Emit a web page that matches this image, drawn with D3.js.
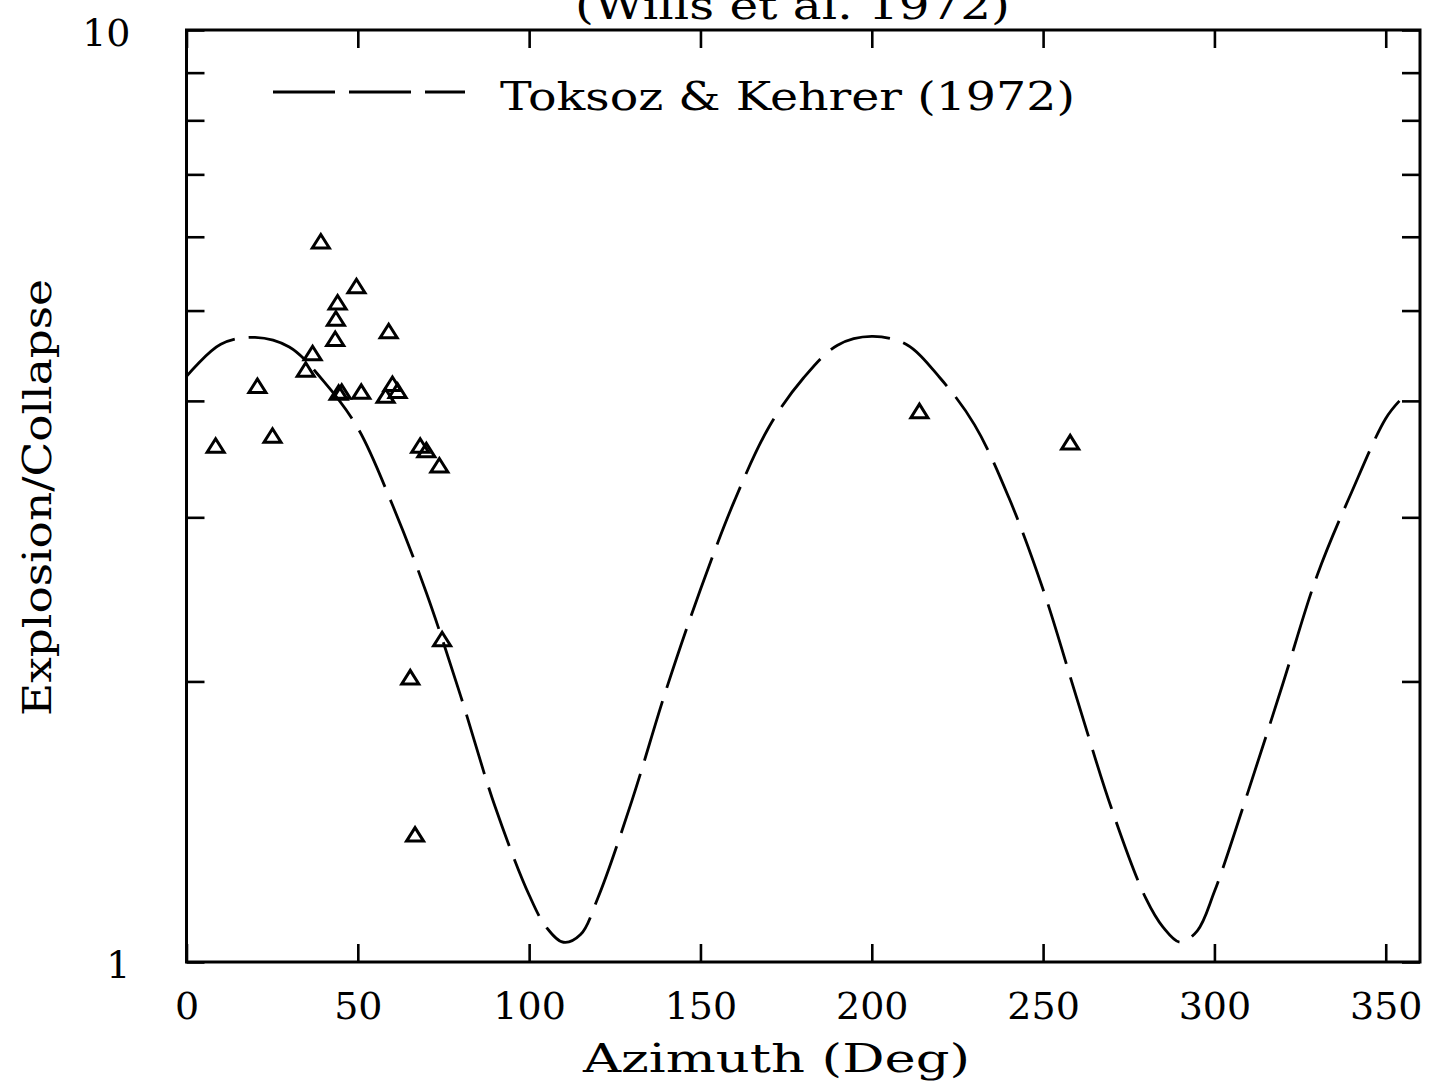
<!DOCTYPE html>
<html>
<head>
<meta charset="utf-8">
<script src="https://cdn.jsdelivr.net/npm/d3@7"></script>
<style>
  body { margin: 0; background: #fff; }
  text { font-family: "DejaVu Serif", serif; fill: #000; }
</style>
</head>
<body>
<div id="chart"></div>
<script>
// observed ratios (triangles)
let obsAzimuth = [8.5, 20.7, 25.1, 34.8, 36.8, 39.2, 43.4, 43.6, 44.1, 44.4, 45.3, 49.6, 51.0,
                  58.1, 59.0, 60.1, 61.6, 68.2, 70.0, 73.8, 74.6, 65.3, 66.7, 213.9, 257.9];
let obsRatio = [3.58, 4.15, 3.67, 4.32, 4.50, 5.93, 4.66, 4.90, 5.10, 4.08, 4.09, 5.31, 4.09,
                4.05, 4.75, 4.17, 4.10, 3.58, 3.54, 3.41, 2.22, 2.02, 1.37, 3.90, 3.61];

// Toksoz & Kehrer (1972) curve
let curveAzimuth = [0, 10, 20, 30, 40, 50, 60, 70, 80, 90, 100, 105, 110, 115, 120, 130, 140, 150, 160,
                    170, 180, 190, 200, 210, 220, 230, 240, 250, 260, 270, 280, 285, 290, 295, 300,
                    310, 320, 330, 340, 350, 354];
let curveRatio = [4.25, 4.60, 4.68, 4.57, 4.20, 3.74, 3.10, 2.49, 1.93, 1.47, 1.18, 1.09, 1.05, 1.07, 1.17,
                  1.49, 1.96, 2.51, 3.13, 3.75, 4.23, 4.59, 4.69, 4.60, 4.23, 3.77, 3.15, 2.51, 1.91,
                  1.46, 1.17, 1.09, 1.05, 1.08, 1.19, 1.53, 1.99, 2.60, 3.19, 3.83, 4.00];

let xTicks = [0, 50, 100, 150, 200, 250, 300, 350];
let yTicks = [1, 2, 3, 4, 5, 6, 7, 8, 9, 10];

let margin = {top: 30, right: 13, bottom: 122, left: 186.5};
let width = 1433 - margin.left - margin.right,
    height = 1084 - margin.top - margin.bottom;

let svg = d3.select("#chart").append("svg")
    .attr("width", 1433)
    .attr("height", 1084);

let g = svg.append("g")
    .attr("transform", "translate(" + margin.left + "," + margin.top + ")");

let x = d3.scaleLinear().domain([0, 360]).range([0, width]);
let y = d3.scaleLog().domain([1, 10]).range([height, 0]);

let tickLen = 18;

// axes, ticks pointing inwards
let xAxisBottom = d3.axisBottom(x).tickValues(xTicks).tickSize(-tickLen).tickPadding(30)
    .tickFormat(d3.format("d"));
let xAxisTop = d3.axisTop(x).tickValues(xTicks).tickSize(-tickLen).tickFormat("");
let yAxisLeft = d3.axisLeft(y).tickValues(yTicks).tickSize(-tickLen).tickPadding(56)
    .tickFormat(d => (d === 1 || d === 10) ? d : "");
let yAxisRight = d3.axisRight(y).tickValues(yTicks).tickSize(-tickLen).tickFormat("");

function styleAxis(sel) {
    sel.select(".domain").remove();
    sel.selectAll(".tick line").attr("stroke", "#000").attr("stroke-width", 2.6);
    sel.selectAll(".tick text")
        .style("font-family", "DejaVu Serif")
        .style("font-size", "38px")
        .attr("fill", "#000");
}

g.append("g").attr("transform", "translate(0," + height + ")").call(xAxisBottom).call(styleAxis);
g.append("g").call(xAxisTop).call(styleAxis);
g.append("g").call(yAxisLeft).call(styleAxis)
    .selectAll(".tick text").attr("dy", "0.42em");
g.append("g").attr("transform", "translate(" + width + ",0)").call(yAxisRight).call(styleAxis);

// frame
g.append("rect")
    .attr("x", 0).attr("y", 0)
    .attr("width", width).attr("height", height)
    .attr("fill", "none")
    .attr("stroke", "#000")
    .attr("stroke-width", 3);

// theoretical curve
let curveData = curveAzimuth.map((a, i) => ({az: a, r: curveRatio[i]}));
let line = d3.line()
    .x(d => x(d.az))
    .y(d => y(d.r))
    .curve(d3.curveCatmullRom);

g.append("path")
    .datum(curveData)
    .attr("d", line)
    .attr("fill", "none")
    .attr("stroke", "#000")
    .attr("stroke-width", 2.8)
    .attr("stroke-dasharray", "62,14");

// observations as open triangles
let obsData = obsAzimuth.map((a, i) => ({az: a, r: obsRatio[i]}));
g.selectAll(".obs")
    .data(obsData)
    .enter()
    .append("path")
    .attr("class", "obs")
    .attr("transform", d => "translate(" + x(d.az) + "," + y(d.r) + ")")
    .attr("d", "M0,-7L8.5,6.5L-8.5,6.5Z")
    .attr("fill", "none")
    .attr("stroke", "#000")
    .attr("stroke-width", 3)
    .attr("stroke-linejoin", "miter");

// legend
svg.append("line")
    .attr("x1", 273).attr("x2", 465)
    .attr("y1", 92).attr("y2", 92)
    .attr("stroke", "#000")
    .attr("stroke-width", 2.8)
    .attr("stroke-dasharray", "62,14");
svg.append("text")
    .attr("x", 500).attr("y", 110)
    .attr("textLength", 575).attr("lengthAdjust", "spacingAndGlyphs")
    .style("font-size", "40px")
    .text("Toksoz & Kehrer (1972)");

// title, cut off at the top edge as in the original
svg.append("text")
    .attr("x", 575).attr("y", 19)
    .attr("textLength", 435).attr("lengthAdjust", "spacingAndGlyphs")
    .style("font-size", "40px")
    .text("(Wills et al. 1972)");

// axis labels
svg.append("text")
    .attr("x", 583).attr("y", 1072)
    .attr("textLength", 387).attr("lengthAdjust", "spacingAndGlyphs")
    .style("font-size", "40px")
    .text("Azimuth (Deg)");

svg.append("text")
    .attr("transform", "translate(51,716) rotate(-90)")
    .attr("x", 0).attr("y", 0)
    .attr("textLength", 437).attr("lengthAdjust", "spacingAndGlyphs")
    .style("font-size", "40px")
    .text("Explosion/Collapse");
</script>
</body>
</html>
